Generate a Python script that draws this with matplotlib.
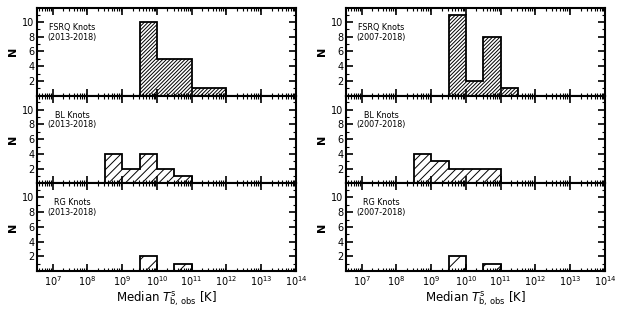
import numpy as np
import matplotlib.pyplot as plt
from matplotlib.ticker import LogLocator, MultipleLocator, NullFormatter

# half-decade bins in log10(T_b) from 10^8.5 to 10^12
log_edges = [8.5, 9.0, 9.5, 10.0, 10.5, 11.0, 11.5, 12.0]

# counts per bin, left column (2013-2018)
fsrq_13 = [0, 0, 10, 5, 5, 1, 1]
bl_13 = [4, 2, 4, 2, 1, 0, 0]
rg_13 = [0, 0, 2, 0, 1, 0, 0]

# right column (2007-2018)
fsrq_07 = [0, 0, 11, 2, 8, 1, 0]
bl_07 = [4, 3, 2, 2, 2, 0, 0]
rg_07 = [0, 0, 2, 0, 1, 0, 0]

columns = [
    ("(2013-2018)", [fsrq_13, bl_13, rg_13]),
    ("(2007-2018)", [fsrq_07, bl_07, rg_07]),
]
names = ["FSRQ Knots", "BL Knots", "RG Knots"]
hatches = ["/" * 9, "/" * 4, "//"]

plt.rcParams['hatch.linewidth'] = 0.7
edges = 10 ** np.array(log_edges)

fig = plt.figure(figsize=(6.23, 3.12), dpi=100)
lefts = [37 / 623, 346 / 623]
width = 259 / 623
top = 1 - 8 / 312
panel_h = 87.7 / 312

for c, (years, sets) in enumerate(columns):
    for r, counts in enumerate(sets):
        ax = fig.add_axes([lefts[c], top - (r + 1) * panel_h, width, panel_h])
        vals = np.array(counts, dtype=float)
        vals = np.where(vals > 0, vals, np.nan)
        ax.stairs(vals, edges, fill=True, facecolor='white', edgecolor='black',
                  hatch=hatches[r], linewidth=0)
        ax.stairs(vals, edges, fill=False, color='black', linewidth=1.3)
        ax.set_xscale('log')
        ax.set_xlim(10 ** 6.55, 1e14)
        ax.set_ylim(0, 11.9)
        ax.set_yticks([2, 4, 6, 8, 10])
        ax.yaxis.set_minor_locator(MultipleLocator(1))
        ax.xaxis.set_major_locator(LogLocator(base=10, numticks=20))
        ax.xaxis.set_minor_locator(LogLocator(base=10, subs=np.arange(2, 10), numticks=20))
        ax.xaxis.set_minor_formatter(NullFormatter())
        ax.tick_params(which='both', direction='in', top=True, right=True,
                       labelsize=7, pad=2)
        ax.tick_params(which='major', length=5, width=1.2)
        ax.tick_params(which='minor', length=2.5, width=0.8)
        for s in ax.spines.values():
            s.set_linewidth(1.5)
        ax.set_ylabel('N', fontsize=8, fontweight='bold', labelpad=3)
        ax.text(0.135, 0.83, names[r] + "\n" + years, transform=ax.transAxes,
                ha='center', va='top', fontsize=5.8, linespacing=1.1)
        if r < 2:
            ax.tick_params(labelbottom=False)
        else:
            ax.set_xlabel(r'Median $T^{\rm s}_{\rm b,\,obs}$ [K]', fontsize=8.5, labelpad=1)

fig.savefig('out.png', dpi=100)
